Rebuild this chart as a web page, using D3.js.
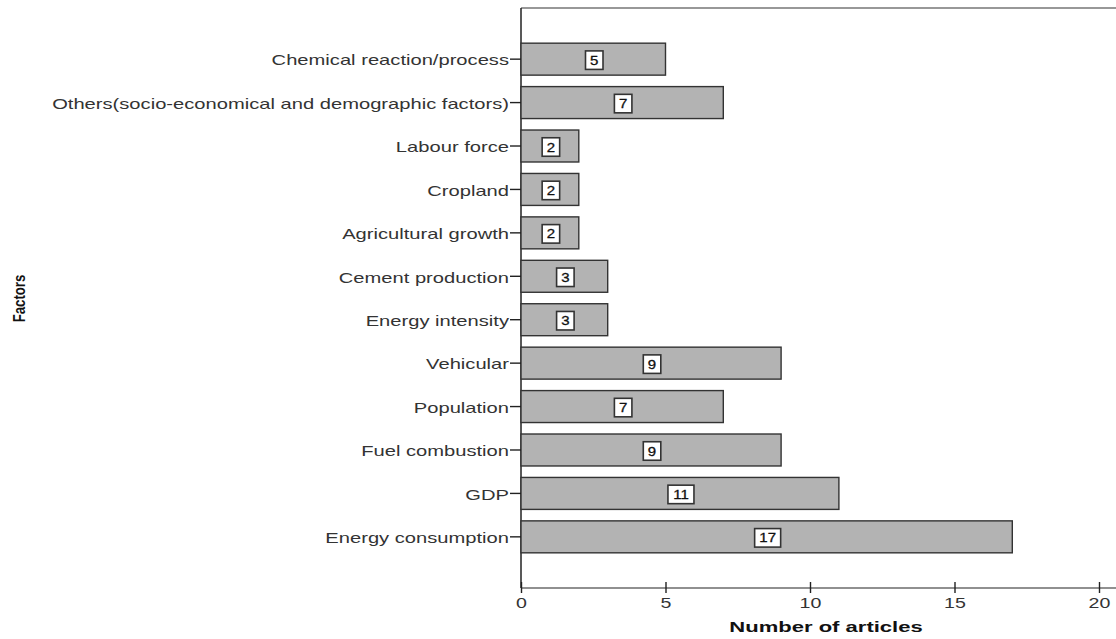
<!DOCTYPE html>
<html><head><meta charset="utf-8">
<script src="https://cdn.jsdelivr.net/npm/d3@7"></script>
<style>body{margin:0;background:#fff}svg{display:block}</style>
</head><body>
<svg id="c" width="1116" height="639"></svg>
<script>
const categories = ["Chemical reaction/process","Others(socio-economical and demographic factors)","Labour force","Cropland","Agricultural growth","Cement production","Energy intensity","Vehicular","Population","Fuel combustion","GDP","Energy consumption"];
const values = [5,7,2,2,2,3,3,9,7,9,11,17];
const xTicks = [0,5,10,15,20];
const xTitle = "Number of articles";
const yTitle = "Factors";

(function(){
const svg = d3.select("#c");
const mLeft = 521, mRight = 1099, mTop = 8, mBottom = 588;
const x = d3.scaleLinear().domain([0,20]).range([mLeft,mRight]);
const y = d3.scaleBand().domain(categories).range([mTop,mBottom]).paddingInner(0.264).paddingOuter(0.81);
const font = "Arial, 'Liberation Sans', sans-serif";
const stretchX = (sel,k) => sel.each(function(){
  const t = d3.select(this); const x0 = +t.attr("x") || 0;
  t.attr("x",0).attr("transform",`translate(${x0},0) scale(${k},1)`);
});

svg.append("line").attr("x1",mLeft).attr("x2",1116).attr("y1",mTop).attr("y2",mTop).attr("stroke","#333").attr("stroke-width",1.2);
svg.append("line").attr("x1",mLeft).attr("x2",1116).attr("y1",mBottom).attr("y2",mBottom).attr("stroke","#222").attr("stroke-width",1.2);
svg.append("line").attr("x1",mLeft).attr("x2",mLeft).attr("y1",mTop).attr("y2",mBottom).attr("stroke","#222").attr("stroke-width",1.5);

svg.selectAll("rect.bar").data(values).enter().append("rect").attr("class","bar")
  .attr("x",x(0)).attr("y",(d,i)=>y(categories[i]))
  .attr("width",d=>x(d)-x(0)).attr("height",y.bandwidth())
  .attr("fill","#b3b3b3").attr("stroke","#333").attr("stroke-width",1.4);

const yAxis = d3.axisLeft(y).tickSize(11).tickPadding(1);
const gy = svg.append("g").attr("transform",`translate(${mLeft},0)`).call(yAxis);
gy.select(".domain").remove();
gy.selectAll(".tick line").attr("stroke","#222").attr("stroke-width",1.4);
gy.selectAll(".tick text").attr("font-family",font).attr("font-size",14).attr("fill","#333")
  .attr("dy","0.45em").call(stretchX,1.44);

const xAxis = d3.axisBottom(x).tickValues(xTicks).tickSize(6).tickPadding(4);
const gx = svg.append("g").attr("transform",`translate(0,${mBottom})`).call(xAxis);
gx.select(".domain").remove();
gx.selectAll(".tick line").attr("y1",-6).attr("y2",5).attr("stroke","#222").attr("stroke-width",1.4);
gx.selectAll(".tick text").attr("font-family",font).attr("font-size",14).attr("fill","#333").call(stretchX,1.4);

const lbl = svg.selectAll("g.vl").data(values).enter().append("g").attr("class","vl")
  .attr("transform",(d,i)=>`translate(${x(d/2)+1},${y(categories[i])+y.bandwidth()/2+1})`);
lbl.append("rect").attr("x",d=>d>=10?-13:-8.75).attr("y",-9.25).attr("width",d=>d>=10?26:17.5).attr("height",18.5)
  .attr("fill","#fff").attr("stroke","#333").attr("stroke-width",1.6);
lbl.append("text").text(d=>d).attr("text-anchor","middle").attr("dy","0.36em")
  .attr("font-family",font).attr("font-size",12.5).attr("fill","#111").attr("stroke","#111").attr("stroke-width",0.3)
  .call(stretchX,1.2);

svg.append("text").attr("x",(mLeft+mRight)/2+16).attr("y",632).attr("text-anchor","middle")
  .attr("font-family",font).attr("font-size",14.5).attr("font-weight","bold").attr("fill","#111").text(xTitle)
  .call(stretchX,1.52);
svg.append("text").attr("transform","translate(25,298.5) rotate(-90) scale(0.88,1.15)").attr("text-anchor","middle")
  .attr("font-family",font)
  .attr("font-size",15).attr("font-weight","bold").attr("fill","#111").text(yTitle);
})();
</script>
</body></html>
